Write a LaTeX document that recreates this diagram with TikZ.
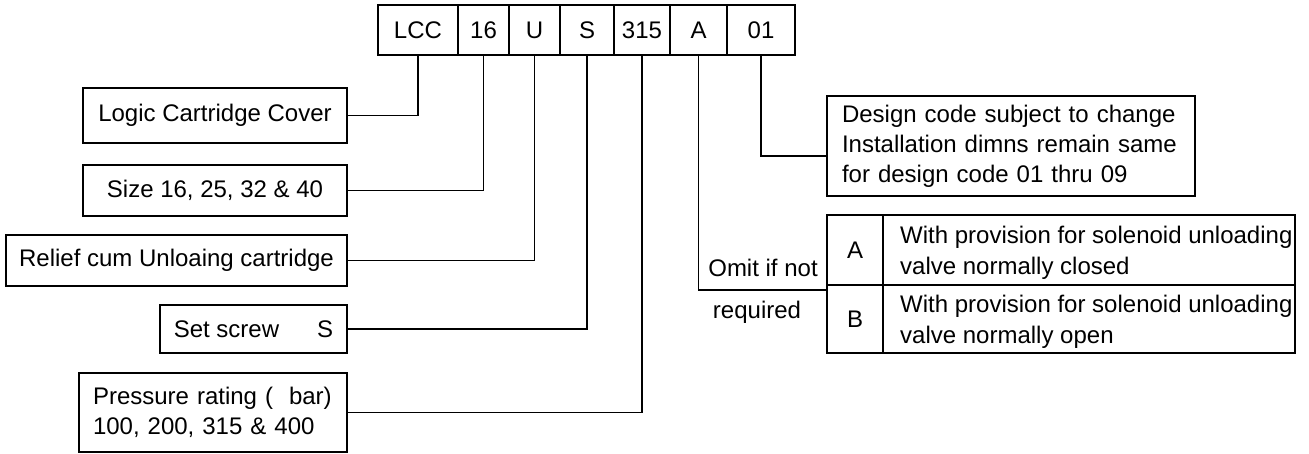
\documentclass[tikz,border=0pt]{standalone}
\usepackage{fontspec}
\setmainfont{Liberation Sans}
\usetikzlibrary{positioning}

\begin{document}
\begin{tikzpicture}[x=1pt, y=-1pt,
cell/.style={rectangle, draw=black, line width=1.5pt, outer sep=0pt, minimum height=50pt, inner sep=0pt, font=\fontsize{24}{30}\selectfont},
tag/.style={rectangle, draw=black, line width=1.5pt, outer sep=0pt, inner sep=0pt, anchor=north west, font=\fontsize{24}{30}\selectfont},
note/.style={tag, align=left},
plain/.style={inner sep=0pt, align=left, font=\fontsize{24}{31}\selectfont},
link/.style={line width=1.5pt}
]
\useasboundingbox (0,0) rectangle (1309,453);
%Code cells
\node[cell, minimum width=80pt, anchor=north west] (lcc) at (378,5) {LCC};
\node[cell, minimum width=51pt]  (sz)     [right=0pt of lcc]  {16};
\node[cell, minimum width=51pt]  (ukey)   [right=0pt of sz]   {U};
\node[cell, minimum width=54pt]  (skey)   [right=0pt of ukey] {S};
\node[cell, minimum width=56pt]  (prs)    [right=0pt of skey] {315};
\node[cell, minimum width=57pt]  (akey)   [right=0pt of prs]  {A};
\node[cell, minimum width=68pt]  (dcode)  [right=0pt of akey] {01};
%Left boxes
\node[tag, minimum width=264pt, minimum height=55pt] (logic)  at (83,88)  {Logic Cartridge Cover};
\node[tag, minimum width=264pt, minimum height=51pt] (sizes)  at (83,165) {Size 16, 25, 32 \& 40};
\node[tag, minimum width=341pt, minimum height=51pt] (relief) at (6,235)  {Relief cum Unloaing cartridge};
\node[tag, minimum width=187pt, minimum height=48pt] (screw)  at (160,305) {Set screw\hspace{38pt}S};
\node[note, text width=240pt, inner xsep=14pt, minimum height=79pt] (rating) at (79,373)
  {Pressure rating (\hspace{16pt}bar)\\100, 200, 315 \& 400};
%Right boxes
\node[note, text width=338pt, inner xsep=15pt, minimum height=100pt] (design) at (827,96)
  {Design code subject to change\\Installation dimns remain same\\for design code 01 thru 09};
\node[tag, minimum width=56pt, minimum height=70pt]  (optA)  at (827,215) {A};
\node[tag, minimum width=56pt, minimum height=68pt]  (optB)  at (827,285) {B};
\node[tag, minimum width=412pt, minimum height=70pt] (rowA)  at (883,215) {};
\node[tag, minimum width=412pt, minimum height=68pt] (rowB)  at (883,285) {};
\node[plain, anchor=west] (txtA) at ([xshift=17pt, yshift=-3pt]rowA.west) {With provision for solenoid unloading\\valve normally closed};
\node[plain, anchor=west] (txtB) at ([xshift=17pt, yshift=-3pt]rowB.west) {With provision for solenoid unloading\\valve normally open};
\node[plain] (omit1) at (763,268) {Omit if not};
\node[plain] (omit2) at (757,312) {required};
%Lines
\draw[link] (lcc.south)   |- (logic.east);
\draw[link] (sz.south)    |- (sizes.east);
\draw[link] (ukey.south)  |- (relief.east);
\draw[link] (skey.south)  |- (screw.east);
\draw[link] (prs.south)   |- (rating.east);
\draw[link] (dcode.south) |- ([yshift=-10pt]design.west);
\draw[link] (akey.south)  |- ([yshift=-5pt]optA.south west);
\end{tikzpicture}
\end{document}
